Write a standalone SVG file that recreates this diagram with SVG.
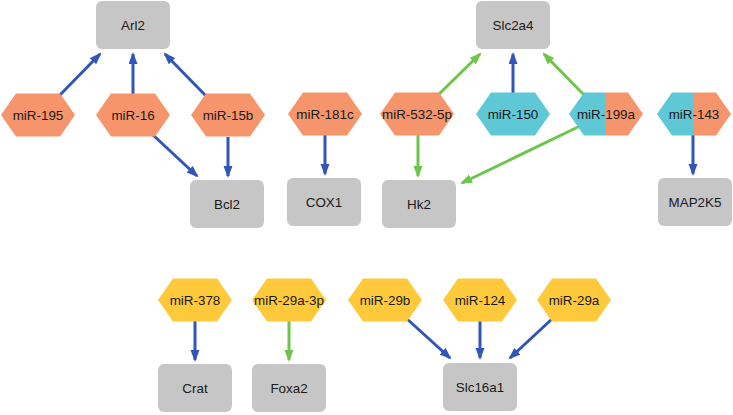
<svg xmlns="http://www.w3.org/2000/svg" xmlns:xlink="http://www.w3.org/1999/xlink" width="733" height="415" viewBox="0 0 733 415">
<style>
.gene{fill:#c6c6c6}
.lbl{font-family:"Liberation Sans",Arial,sans-serif;font-size:13.4px;fill:#1a1a1a;text-anchor:middle;dominant-baseline:central}
.or{fill:#f6956c}
.cy{fill:#5ec8d6}
.ye{fill:#ffc93c}
.eb{stroke:#3155b8;stroke-width:3;fill:none;marker-end:url(#ab)}
.eg{stroke:#6dc64b;stroke-width:3;fill:none;marker-end:url(#ag)}
</style>
<defs>
<polygon id="hex" points="-37,0 -22,-21.5 22,-21.5 37,0 22,21.5 -22,21.5"/>
<rect id="box" x="-37" y="-24" width="74" height="48" rx="6" ry="6"/>
<clipPath id="leftHalf"><rect x="-40" y="-25" width="40" height="50"/></clipPath>
<clipPath id="rightHalf"><rect x="0" y="-25" width="40" height="50"/></clipPath>
<marker id="ab" markerUnits="userSpaceOnUse" markerWidth="13" markerHeight="10" refX="10" refY="4.5" orient="auto"><path d="M0,0 L12,4.5 L0,9 z" fill="#3155b8"/></marker>
<marker id="ag" markerUnits="userSpaceOnUse" markerWidth="13" markerHeight="10" refX="10" refY="4.5" orient="auto"><path d="M0,0 L12,4.5 L0,9 z" fill="#6dc64b"/></marker>
</defs>
<g id="connectors">
<line class="eb" x1="58" y1="97" x2="100" y2="54"/>
<line class="eb" x1="133" y1="94" x2="133" y2="54"/>
<line class="eb" x1="207" y1="97" x2="165" y2="54"/>
<line class="eb" x1="153" y1="135" x2="197" y2="176"/>
<line class="eb" x1="228" y1="137" x2="228" y2="176"/>
<line class="eb" x1="325" y1="135" x2="325" y2="174"/>
<line class="eg" x1="437" y1="96" x2="480" y2="54"/>
<line class="eb" x1="513" y1="93" x2="513" y2="54"/>
<line class="eg" x1="585" y1="96" x2="544" y2="54"/>
<line class="eg" x1="418" y1="135" x2="418" y2="176"/>
<line class="eg" x1="580" y1="126" x2="462" y2="183"/>
<line class="eb" x1="693" y1="135" x2="693" y2="174"/>
<line class="eb" x1="195" y1="321" x2="195" y2="360"/>
<line class="eg" x1="289" y1="321" x2="289" y2="360"/>
<line class="eb" x1="406" y1="318" x2="450" y2="358"/>
<line class="eb" x1="480" y1="321" x2="480" y2="358"/>
<line class="eb" x1="553" y1="318" x2="510" y2="358"/>
</g>
<g id="Arl2" transform="translate(133,25)"><use href="#box" class="gene"/><text class="lbl">Arl2</text></g>
<g id="Bcl2" transform="translate(227,204)"><use href="#box" class="gene"/><text class="lbl">Bcl2</text></g>
<g id="COX1" transform="translate(324,202)"><use href="#box" class="gene"/><text class="lbl">COX1</text></g>
<g id="Hk2" transform="translate(419,204)"><use href="#box" class="gene"/><text class="lbl">Hk2</text></g>
<g id="Slc2a4" transform="translate(513,25)"><use href="#box" class="gene"/><text class="lbl">Slc2a4</text></g>
<g id="MAP2K5" transform="translate(695,202)"><use href="#box" class="gene"/><text class="lbl">MAP2K5</text></g>
<g id="Crat" transform="translate(195,388)"><use href="#box" class="gene"/><text class="lbl">Crat</text></g>
<g id="Foxa2" transform="translate(289,388)"><use href="#box" class="gene"/><text class="lbl">Foxa2</text></g>
<g id="Slc16a1" transform="translate(480,387)"><use href="#box" class="gene"/><text class="lbl">Slc16a1</text></g>
<g id="miR-195" transform="translate(38,115)"><use href="#hex" class="or"/><text class="lbl">miR-195</text></g>
<g id="miR-16" transform="translate(133,115)"><use href="#hex" class="or"/><text class="lbl">miR-16</text></g>
<g id="miR-15b" transform="translate(228,115)"><use href="#hex" class="or"/><text class="lbl">miR-15b</text></g>
<g id="miR-181c" transform="translate(325,114)"><use href="#hex" class="or"/><text class="lbl">miR-181c</text></g>
<g id="miR-532-5p" transform="translate(417,114)"><use href="#hex" class="or"/><text class="lbl">miR-532-5p</text></g>
<g id="miR-150" transform="translate(513,114)"><use href="#hex" class="cy"/><text class="lbl">miR-150</text></g>
<g id="miR-199a" transform="translate(606,114)"><use href="#hex" class="cy" clip-path="url(#leftHalf)"/><use href="#hex" class="or" clip-path="url(#rightHalf)"/><text class="lbl">miR-199a</text></g>
<g id="miR-143" transform="translate(694,114)"><use href="#hex" class="cy" clip-path="url(#leftHalf)"/><use href="#hex" class="or" clip-path="url(#rightHalf)"/><text class="lbl">miR-143</text></g>
<g id="miR-378" transform="translate(195,300)"><use href="#hex" class="ye"/><text class="lbl">miR-378</text></g>
<g id="miR-29a-3p" transform="translate(289,300)"><use href="#hex" class="ye"/><text class="lbl">miR-29a-3p</text></g>
<g id="miR-29b" transform="translate(385,300)"><use href="#hex" class="ye"/><text class="lbl">miR-29b</text></g>
<g id="miR-124" transform="translate(480,300)"><use href="#hex" class="ye"/><text class="lbl">miR-124</text></g>
<g id="miR-29a" transform="translate(574,300)"><use href="#hex" class="ye"/><text class="lbl">miR-29a</text></g>
</svg>
